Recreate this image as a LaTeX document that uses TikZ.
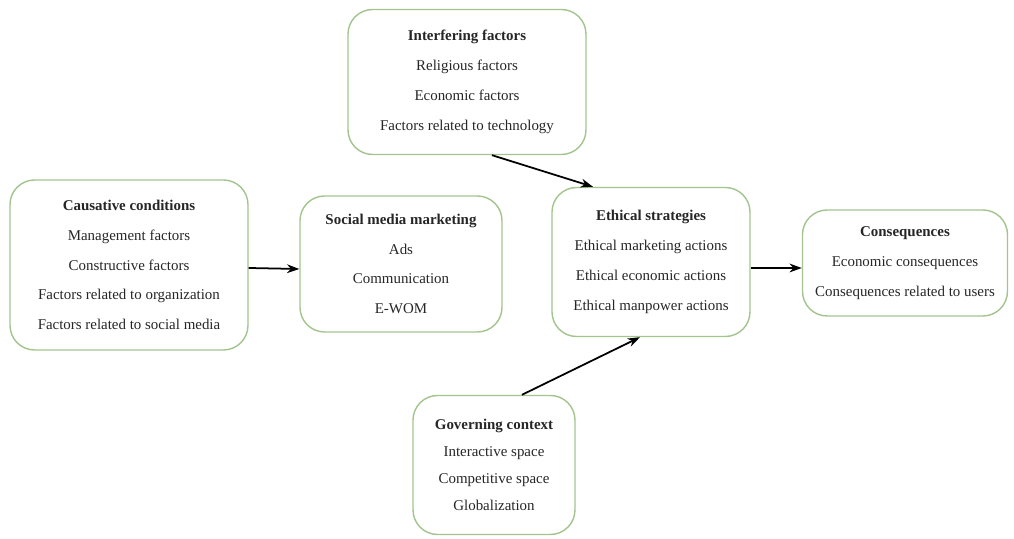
\documentclass[tikz,border=0pt]{standalone}
\usepackage{fontspec}
\setmainfont{Liberation Serif}
\usepackage{tikz}
\usetikzlibrary{positioning,arrows.meta}
\usepackage{xcolor}
\definecolor{boxline}{HTML}{A3C48F}
\definecolor{textgray}{HTML}{262626}

\begin{document}
\begin{tikzpicture}[
    factorBox/.style={rectangle, rounded corners=14pt, draw=boxline, fill=white, line width=0.8pt, text=textgray, font=\fontsize{8.5}{17}\selectfont, align=center, inner sep=4pt},
    arrowFlow/.style={-{Stealth[length=7pt,width=5pt]}, line width=1pt, draw=black}
]
    \useasboundingbox (0,0) rectangle (20.28,10.78);

    \node[factorBox, minimum width=4.76cm, minimum height=3.4cm] (caus) at (2.58, 5.48) {
        \textbf{Causative conditions}\\
        Management factors\\
        Constructive factors\\
        Factors related to organization\\
        Factors related to social media
    };

    \node[factorBox, minimum width=4.04cm, minimum height=2.72cm] (soc) at (8.02, 5.50) {
        \textbf{Social media marketing}\\
        Ads\\
        Communication\\
        E-WOM
    };

    \node[factorBox, minimum width=4.76cm, minimum height=2.9cm] (intf) at (9.34, 9.14) {
        \textbf{Interfering factors}\\
        Religious factors\\
        Economic factors\\
        Factors related to technology
    };

    \node[factorBox, minimum width=3.96cm, minimum height=2.98cm] (eth) at (13.02, 5.54) {
        \textbf{Ethical strategies}\\
        Ethical marketing actions\\
        Ethical economic actions\\
        Ethical manpower actions
    };

    \node[factorBox, minimum width=4.1cm, minimum height=2.12cm] (cons) at (18.10, 5.52) {
        \textbf{Consequences}\\
        Economic consequences\\
        Consequences related to users
    };

    \node[factorBox, minimum width=3.24cm, minimum height=2.78cm, font=\fontsize{8.5}{15.5}\selectfont] (gov) at (9.88, 1.48) {
        \textbf{Governing context}\\
        Interactive space\\
        Competitive space\\
        Globalization
    };

    \draw[arrowFlow] ([yshift=-0.06cm]caus.east) -- ([yshift=-0.1cm]soc.west);
    \draw[arrowFlow] ([xshift=0.5cm]intf.south) -- ([xshift=-1.16cm]eth.north);
    \draw[arrowFlow] ([xshift=0.56cm]gov.north) -- ([xshift=-0.22cm]eth.south);
    \draw[arrowFlow] ([yshift=-0.12cm]eth.east) -- ([yshift=-0.1cm]cons.west);
\end{tikzpicture}
\end{document}
